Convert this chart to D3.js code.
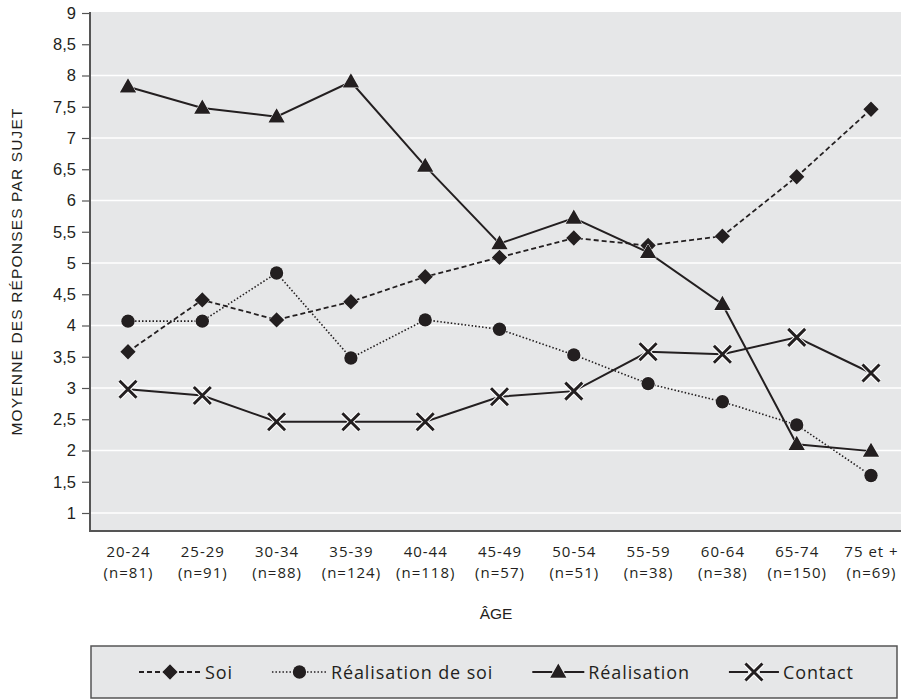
<!DOCTYPE html>
<html><head><meta charset="utf-8">
<script src="https://cdn.jsdelivr.net/npm/d3@7/dist/d3.min.js"></script>
<style>
html,body{margin:0;padding:0;background:#fff;}
svg{display:block;}
</style></head>
<body>
<svg id="chart" width="908" height="699"></svg>
<script>
// ---- data ----
const categories = ["20-24","25-29","30-34","35-39","40-44","45-49","50-54","55-59","60-64","65-74","75 et +"];
const counts = ["(n=81)","(n=91)","(n=88)","(n=124)","(n=118)","(n=57)","(n=51)","(n=38)","(n=38)","(n=150)","(n=69)"];
const soi = [3.58, 4.41, 4.09, 4.38, 4.78, 5.09, 5.40, 5.28, 5.43, 6.38, 7.46];
const realisationDeSoi = [4.07, 4.07, 4.84, 3.48, 4.09, 3.94, 3.53, 3.07, 2.78, 2.41, 1.60];
const realisation = [7.82, 7.48, 7.34, 7.90, 6.55, 5.31, 5.72, 5.17, 4.34, 2.10, 1.99];
const contact = [2.98, 2.88, 2.46, 2.46, 2.46, 2.86, 2.95, 3.58, 3.54, 3.81, 3.24];
const yTicks = [1, 1.5, 2, 2.5, 3, 3.5, 4, 4.5, 5, 5.5, 6, 6.5, 7, 7.5, 8, 8.5, 9];
const gridValues = [1, 2, 3, 4, 5, 6, 7, 8];
const seriesNames = ["Soi", "Réalisation de soi", "Réalisation", "Contact"];

const INK = "#231f20";
const BG = "#e6e7e8";
const svg = d3.select("#chart");

const plot = {left: 90, right: 901, top: 12, bottom: 531};
const x = d3.scalePoint().domain(categories).range([128, 871]);
const y = d3.scaleLinear().domain([1, 9]).range([513, 13]);

// background
svg.append("rect").attr("x", plot.left).attr("y", plot.top)
  .attr("width", plot.right - plot.left).attr("height", plot.bottom - plot.top)
  .attr("fill", BG);

// gridlines
svg.append("g").selectAll("line").data(gridValues).join("line")
  .attr("x1", plot.left).attr("x2", plot.right)
  .attr("y1", d => y(d)).attr("y2", d => y(d))
  .attr("stroke", "#fff").attr("stroke-width", 1.5);

// y axis
const yAxis = d3.axisLeft(y).tickValues(yTicks).tickSize(8).tickPadding(6)
  .tickFormat(d => String(d).replace(".", ","));
const gy = svg.append("g").attr("transform", `translate(${plot.left},0)`).call(yAxis);
gy.select(".domain").remove();
gy.selectAll(".tick line").attr("stroke", "#555").attr("stroke-width", 1.2);
gy.selectAll(".tick text").attr("fill", INK)
  .style("font-family", "'Liberation Sans', Arial, sans-serif").style("font-size", "16.5px");

// axis lines
svg.append("line").attr("x1", plot.left).attr("x2", plot.left)
  .attr("y1", plot.top).attr("y2", plot.bottom + 1)
  .attr("stroke", "#555").attr("stroke-width", 2);
svg.append("line").attr("x1", plot.left - 1).attr("x2", plot.right)
  .attr("y1", plot.bottom).attr("y2", plot.bottom)
  .attr("stroke", "#555").attr("stroke-width", 2);

// x axis labels (two lines in one text)
const xAxis = d3.axisBottom(x).tickSize(0).tickPadding(0).tickFormat(() => "");
const gx = svg.append("g").attr("transform", `translate(0,${plot.bottom})`).call(xAxis);
gx.select(".domain").remove();
const tickFont = "'Open Sans', sans-serif";
gx.selectAll(".tick").each(function(d, i) {
  const t = d3.select(this).append("text").attr("text-anchor", "middle").attr("fill", INK)
    .style("font-family", tickFont).style("font-size", "15px").style("letter-spacing", "1px");
  t.append("tspan").attr("x", 0).attr("y", 26).text(d);
  t.append("tspan").attr("x", 0).attr("y", 47).text(counts[i]);
});

// axis titles
svg.append("text").attr("x", 496).attr("y", 619).attr("text-anchor", "middle")
  .attr("fill", INK).style("font-family", "'Liberation Sans', Arial, sans-serif")
  .style("font-size", "15.5px").style("font-weight", "500").text("ÂGE");
svg.append("text").attr("transform", "translate(22,272) rotate(-90)")
  .attr("text-anchor", "middle").attr("fill", INK)
  .style("font-family", "'Liberation Sans', Arial, sans-serif").style("font-size", "15.5px")
  .attr("textLength", 327).attr("lengthAdjust", "spacing")
  .text("MOYENNE DES RÉPONSES PAR SUJET");

// markers
const sym = {
  diamond: d3.symbol().type(d3.symbolDiamond2).size(150),
  circle: d3.symbol().type(d3.symbolCircle).size(140),
  triangle: d3.symbol().type(d3.symbolTriangle).size(115),
  cross: d3.symbol().type(d3.symbolX).size(190)
};
const series = [
  {name: seriesNames[0], values: soi, dash: "5,3", width: 1.8, marker: "diamond"},
  {name: seriesNames[1], values: realisationDeSoi, dash: "1.5,2", width: 1.6, marker: "circle"},
  {name: seriesNames[2], values: realisation, dash: null, width: 2, marker: "triangle"},
  {name: seriesNames[3], values: contact, dash: null, width: 2, marker: "cross"}
];

function drawMarker(g, kind, cx, cy) {
  if (kind === "cross") {
    g.append("path").attr("d", sym.cross()).attr("transform", `translate(${cx},${cy})`)
      .attr("fill", "none").attr("stroke", "#fff").attr("stroke-width", 5);
    g.append("path").attr("d", sym.cross()).attr("transform", `translate(${cx},${cy})`)
      .attr("fill", "none").attr("stroke", INK).attr("stroke-width", 3);
  } else {
    const off = kind === "triangle" ? 1 : 0;
    g.append("path").attr("d", sym[kind]()).attr("transform", `translate(${cx},${cy + off})`)
      .attr("fill", INK).attr("stroke", "#fff").attr("stroke-width", 1)
      .attr("paint-order", "stroke");
  }
}

const line = d3.line().x((d, i) => x(categories[i])).y(d => y(d));
const linesG = svg.append("g");
const marksG = svg.append("g");
series.forEach(s => {
  linesG.append("path").datum(s.values).attr("d", line)
    .attr("fill", "none").attr("stroke", INK).attr("stroke-width", s.width)
    .attr("stroke-dasharray", s.dash);
});
series.forEach(s => {
  s.values.forEach((v, i) => drawMarker(marksG, s.marker, x(categories[i]), y(v)));
});

// legend
const lg = svg.append("g");
lg.append("rect").attr("x", 91).attr("y", 646).attr("width", 806).attr("height", 52)
  .attr("fill", BG).attr("stroke", "#555").attr("stroke-width", 1.5);
const legendFont = "'Open Sans', sans-serif";
const lineLens = [62, 55, 52, 50];
let lx = 139;
const ly = 672;
series.forEach((s, k) => {
  const L = lineLens[k];
  lg.append("line").attr("x1", lx).attr("x2", lx + L).attr("y1", ly).attr("y2", ly)
    .attr("stroke", INK).attr("stroke-width", s.width).attr("stroke-dasharray", s.dash);
  lg.append("rect").attr("x", lx + L / 2 - 6).attr("y", ly - 3).attr("width", 12).attr("height", 6).attr("fill", BG);
  drawMarker(lg, s.marker, lx + L / 2, ly);
  const t = lg.append("text").attr("x", lx + L + 4).attr("y", ly + 6.5).attr("fill", INK)
    .style("font-family", legendFont).style("font-size", "18px").style("letter-spacing", "0.9px").text(s.name);
  lx = lx + L + 4 + t.node().getComputedTextLength() + 39;
});
</script>
</body></html>
